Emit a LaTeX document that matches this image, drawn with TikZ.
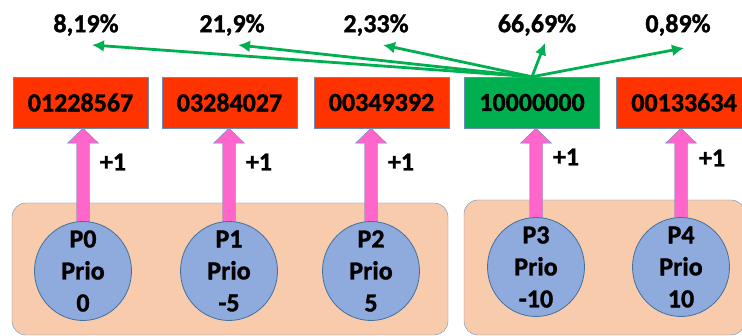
\documentclass[tikz,border=0pt]{standalone}
\usepackage{fontspec}
\setmainfont{Carlito}[BoldFeatures={FakeBold=1.2}]
\usetikzlibrary{shapes.geometric,arrows.meta,backgrounds,calc}
\definecolor{rouge}{HTML}{FF3300}
\definecolor{vert}{HTML}{00B050}
\definecolor{rose}{HTML}{FF66CC}
\definecolor{bleuP}{HTML}{8FAADC}
\definecolor{bordureP}{HTML}{41719C}
\definecolor{bordure}{HTML}{6A8DB8}
\definecolor{peche}{HTML}{F8CBAD}
% Fleche epaisse de #1 vers #2
\newcommand{\montee}[2]{%
  \draw[jeton] let \p1=(#1.center), \p2=(#2.south) in
    (\x1-6.5pt,\y1) -- (\x1-6.5pt,\y2-15pt) -- (\x1-15.5pt,\y2-15pt) -- (\x1,\y2)
    -- (\x1+15.5pt,\y2-15pt) -- (\x1+6.5pt,\y2-15pt) -- (\x1+6.5pt,\y1) -- cycle;}
\begin{document}
\begin{tikzpicture}[x=1pt,y=-1pt]
% Styles
\tikzstyle{case}=[draw=bordure,thin,minimum width=135pt,minimum height=51pt,inner sep=0pt,font=\fontsize{26}{30}\selectfont\bfseries]
\tikzstyle{perdu}=[case,fill=rouge]
\tikzstyle{gagne}=[case,fill=vert]
\tikzstyle{processus}=[ellipse,draw=bordureP,fill=bleuP,line width=0.8pt,minimum width=97pt,minimum height=99pt,inner xsep=0pt,inner ysep=-25pt,align=center,font=\fontsize{26}{32}\selectfont\bfseries]
\tikzstyle{groupe}=[draw=bordure,fill=peche,thin,rounded corners=14pt,inner sep=0pt]
\tikzstyle{pourcent}=[inner sep=0pt,font=\fontsize{26}{30}\selectfont\bfseries]
\tikzstyle{increment}=[inner sep=0pt,font=\fontsize{26}{30}\selectfont\bfseries]
\tikzstyle{fleche}=[->,>={Latex[length=12pt,width=12pt]},line width=2.8pt,vert]
\tikzstyle{jeton}=[draw=bordure,fill=rose,thin]
\useasboundingbox (0,0) rectangle (742,336);
% Compteurs
\node[perdu] (B0) at (80.5,102.5) {01228567};
\node[perdu] (B1) at (229.5,102.5) {03284027};
\node[perdu] (B2) at (381.5,102.5) {00349392};
\node[gagne] (B3) at (532,102.5) {10000000};
\node[perdu] (B4) at (684,102.5) {00133634};
% Pourcentages
\node[pourcent] (T0) at (86,25) {8,19\%};
\node[pourcent] (T1) at (232,25) {21,9\%};
\node[pourcent] (T2) at (376,25) {2,33\%};
\node[pourcent] (T3) at (537,25) {66,69\%};
\node[pourcent] (T4) at (678,25) {0,89\%};
\coordinate (t0) at (92,45);
\coordinate (t1) at (238,45);
\coordinate (t2) at (383,45);
\coordinate (t3) at (545,43);
\coordinate (t4) at (684,48);
\draw[fleche] (B3.north) -- (t0);
\draw[fleche] (B3.north) -- (t1);
\draw[fleche] (B3.north) -- (t2);
\draw[fleche] (B3.north) -- (t3);
\draw[fleche] (B3.north) -- (t4);
% Processus
\node[processus] (P0) at (83,271) {P0\\Prio\\0};
\node[processus] (P1) at (229,271) {P1\\Prio\\-5};
\node[processus] (P2) at (371,271) {P2\\Prio\\5};
\node[processus] (P3) at (536,267) {P3\\Prio\\-10};
\node[processus] (P4) at (681,267) {P4\\Prio\\10};
% Increments
\node[increment] (I0) at (113,162) {+1};
\node[increment] (I1) at (259,162) {+1};
\node[increment] (I2) at (401,162) {+1};
\node[increment] (I3) at (566,157) {+1};
\node[increment] (I4) at (712,158) {+1};
% Fond
\begin{scope}[on background layer]
\node[groupe,minimum width=436pt,minimum height=132pt] (G0) at (230,269) {};
\node[groupe,minimum width=281pt,minimum height=135pt] (G1) at (604.5,267.5) {};
\montee{P0}{B0}
\montee{P1}{B1}
\montee{P2}{B2}
\montee{P3}{B3}
\montee{P4}{B4}
\end{scope}
\end{tikzpicture}
\end{document}
